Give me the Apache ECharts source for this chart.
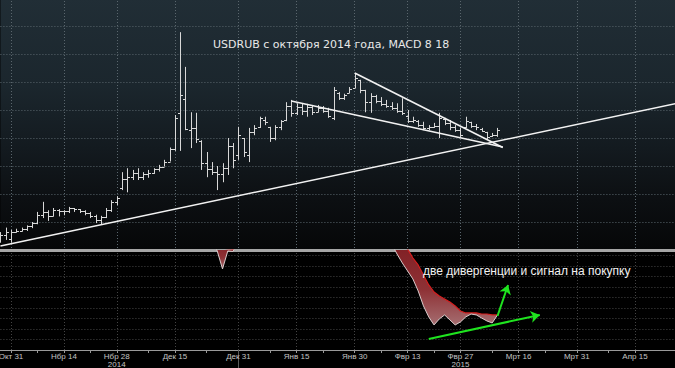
<!DOCTYPE html>
<html><head><meta charset="utf-8">
<script src="https://cdn.jsdelivr.net/npm/echarts@6/dist/echarts.min.js"></script>
<style>html,body{margin:0;padding:0;background:#000}#c{width:675px;height:368px}</style>
</head><body><div id="c"></div>
<script>
// Weekday categories (trading calendar) Oct 29 2014 .. Apr 27 2015
const categories = [
'2014-10-29','2014-10-30','2014-10-31',
'2014-11-03','2014-11-04','2014-11-05','2014-11-06','2014-11-07','2014-11-10','2014-11-11','2014-11-12','2014-11-13','2014-11-14',
'2014-11-17','2014-11-18','2014-11-19','2014-11-20','2014-11-21','2014-11-24','2014-11-25','2014-11-26','2014-11-27','2014-11-28',
'2014-12-01','2014-12-02','2014-12-03','2014-12-04','2014-12-05','2014-12-08','2014-12-09','2014-12-10','2014-12-11','2014-12-12',
'2014-12-15','2014-12-16','2014-12-17','2014-12-18','2014-12-19','2014-12-22','2014-12-23','2014-12-24','2014-12-25','2014-12-26',
'2014-12-29','2014-12-30','2014-12-31',
'2015-01-01','2015-01-02','2015-01-05','2015-01-06','2015-01-07','2015-01-08','2015-01-09','2015-01-12','2015-01-13','2015-01-14',
'2015-01-15','2015-01-16','2015-01-19','2015-01-20','2015-01-21','2015-01-22','2015-01-23','2015-01-26','2015-01-27','2015-01-28',
'2015-01-29','2015-01-30',
'2015-02-02','2015-02-03','2015-02-04','2015-02-05','2015-02-06','2015-02-09','2015-02-10','2015-02-11','2015-02-12','2015-02-13',
'2015-02-16','2015-02-17','2015-02-18','2015-02-19','2015-02-20','2015-02-23','2015-02-24','2015-02-25','2015-02-26','2015-02-27',
'2015-03-02','2015-03-03','2015-03-04','2015-03-05','2015-03-06','2015-03-09','2015-03-10','2015-03-11','2015-03-12','2015-03-13',
'2015-03-16','2015-03-17','2015-03-18','2015-03-19','2015-03-20','2015-03-23','2015-03-24','2015-03-25','2015-03-26','2015-03-27',
'2015-03-30','2015-03-31',
'2015-04-01','2015-04-02','2015-04-03','2015-04-06','2015-04-07','2015-04-08','2015-04-09','2015-04-10','2015-04-13','2015-04-14',
'2015-04-15','2015-04-16','2015-04-17','2015-04-20','2015-04-21','2015-04-22','2015-04-23','2015-04-24','2015-04-27'
];

// USDRUB daily OHLC, from 2014-10-29 to 2015-03-10
const open  = [42.3,42.6,42.0,43.2,43.4,43.7,44.2,44.8,46.3,46.8,46.0,47.1,46.9,46.9,47.5,47.3,47.0,46.6,46.0,45.4,45.9,47.2,48.5,
  51.0,52.6,53.0,53.8,53.0,53.6,53.8,54.4,54.9,55.8,58.0,64.5,67.0,61.5,61.8,59.5,55.5,54.5,54.0,53.5,54.7,58.5,57.0,
  60.0,57.0,61.0,62.0,63.3,62.0,60.0,62.0,63.2,65.8,64.5,65.5,64.8,65.5,64.6,65.3,64.8,63.6,68.0,67.2,68.0,69.0,
  70.4,68.5,66.5,67.5,66.6,66.0,65.7,65.3,64.8,64.0,63.0,63.0,62.4,61.8,62.0,62.2,63.4,62.7,62.0,61.4,
  62.0,62.9,62.2,61.6,61.1,60.3,60.5];
const high  = [43.2,44.0,43.6,43.8,44.0,44.4,45.0,46.8,48.6,47.1,47.5,47.3,47.1,47.7,47.5,47.3,47.1,46.8,46.3,46.1,47.5,48.9,49.6,
  53.9,54.6,54.3,54.6,53.9,54.3,54.6,55.2,56.1,58.3,64.1,78.9,72.7,64.6,64.5,59.6,57.5,55.7,55.0,55.5,60.0,59.1,62.0,
  60.0,61.8,62.3,63.8,63.8,62.0,62.3,63.2,66.4,66.8,66.2,66.1,66.1,65.9,65.9,65.7,65.4,69.1,68.2,67.9,69.1,71.6,
  70.4,68.6,68.0,67.7,67.3,66.8,66.4,66.2,67.1,65.0,63.8,63.2,62.9,62.3,62.7,64.5,63.6,63.2,62.3,61.8,
  63.8,62.9,62.5,61.8,61.1,60.9,61.8];
const low   = [41.3,41.8,41.3,43.1,43.3,43.4,43.9,44.6,45.7,45.2,46.0,46.0,46.2,46.6,46.8,46.6,46.2,45.7,44.8,44.6,45.7,46.8,48.0,
  50.7,50.3,52.5,52.5,52.5,52.9,53.6,54.0,54.9,55.8,57.7,57.7,61.4,58.2,59.1,54.3,53.0,53.4,50.7,52.1,53.4,54.6,56.1,
  56.6,55.7,60.5,61.8,62.3,59.3,59.6,61.4,63.0,63.8,64.1,64.1,63.8,64.1,64.6,64.5,63.6,63.2,66.8,66.8,68.0,68.9,
  68.0,64.6,64.5,66.2,65.7,65.4,65.0,64.5,64.1,62.7,62.7,62.0,61.4,61.4,61.8,60.0,62.3,61.4,61.1,60.2,
  61.8,61.8,61.4,61.1,59.8,60.2,60.2];
const close = [42.6,43.2,43.2,43.4,43.7,44.2,44.8,46.3,46.8,46.0,47.1,46.9,46.9,47.5,47.3,47.0,46.6,46.0,45.4,45.9,47.2,48.5,49.3,
  52.6,53.0,53.8,53.0,53.6,53.8,54.4,54.9,55.8,58.0,63.5,67.7,61.6,61.8,59.8,55.5,54.5,54.0,53.5,54.7,58.5,56.0,60.5,
  57.5,61.0,61.8,63.5,62.8,60.0,62.0,63.0,65.8,64.5,65.5,64.8,65.6,64.6,65.3,64.8,63.9,68.5,67.2,67.6,68.8,70.8,
  68.5,66.5,67.5,66.6,66.0,65.7,65.3,64.8,64.5,63.0,63.3,62.4,61.8,62.0,62.2,63.6,62.7,62.0,61.4,60.5,
  63.0,62.2,61.9,61.3,60.2,60.5,61.5];

// MACD(8,18) and signal, from 2014-12-24 to 2015-03-10 (null = off the panel)
const macdStartDate = '2014-12-24';
const macd = [1.45,0.41,-1.30,0.41,0.36,1.45,
  null,null,null,null,null,null,null,null,null,null,null,null,null,null,null,null,null,null,null,null,null,null,null,null,null,null,null,null,
  1.07,0.12,-0.73,-1.49,-2.25,-3.39,-4.81,-5.86,-6.62,-6.05,-5.67,-6.14,-6.62,-6.33,-5.86,-5.58,-5.67,-5.96,-6.24,-6.43,-5.67];
const signal = [1.20,0.90,0.70,0.60,0.55,1.00,
  null,null,null,null,null,null,null,null,null,null,null,null,null,null,null,null,null,null,null,null,null,null,null,null,null,null,null,null,
  1.83,1.36,0.98,0.60,-0.26,-0.92,-1.87,-2.82,-3.49,-3.87,-4.15,-4.44,-4.81,-5.29,-5.48,-5.48,-5.48,-5.58,-5.58,-5.67,-5.67];

// Trend lines (price panel) and arrows (MACD panel)
const trendSupport = [['2014-10-29', 40.73], ['2015-04-27', 66.2]];
const trendUpper   = [['2015-01-30', 71.6], ['2015-03-11', 58.3]];
const trendLower   = [['2015-01-14', 66.6], ['2015-03-11', 58.4]];
const arrowSignal  = [['2015-03-10', -5.77], ['2015-03-12', -2.82]];
const arrowDiverg  = [['2015-02-19', -7.95], ['2015-03-20', -5.67]];

// Axis ticks
const tickDates  = ['2014-10-31','2014-11-14','2014-11-28','2014-12-15','2014-12-31','2015-01-15','2015-01-30','2015-02-13','2015-02-27','2015-03-16','2015-03-31','2015-04-15'];
const tickLabels = ['Окт 31','Нбр 14','Нбр 28\n2014','Дек 15','Дек 31','Янв 15','Янв 30','Фвр 13','Фвр 27\n2015','Мрт 16','Мрт 31','Апр 15'];
const minorTickDates = ['2014-11-07','2014-11-21','2014-12-08','2014-12-23','2015-01-08','2015-01-22','2015-02-06','2015-02-20','2015-03-09','2015-03-23','2015-04-08'];
const yearBreakDate = '2014-12-31';

const titleText = 'USDRUB с октября 2014 года, MACD 8 18';
const noteText = 'две дивергенции и сигнал на покупку';

// ---- build ----
const ohlcData = open.map((o, i) => [i, o, high[i], low[i], close[i]]);
const macdStart = categories.indexOf(macdStartDate);
const macdLine = macd.map((v, i) => [categories[macdStart + i], v]);
const signalLine = signal.map((v, i) => [categories[macdStart + i], v]);
const fillRuns = [];
(function () {
  let s = -1;
  for (let i = 0; i <= macd.length; i++) {
    const ok = i < macd.length && macd[i] != null && signal[i] != null;
    if (ok && s < 0) s = i;
    if (!ok && s >= 0) { fillRuns.push([s, i - 1]); s = -1; }
  }
})();

const isTick = (idx, v) => tickDates.indexOf(v) >= 0;
const isTickOrMinor = (idx, v) => tickDates.indexOf(v) >= 0 || minorTickDates.indexOf(v) >= 0;

const GL = 0.42, GW = 676.86;
const chart = echarts.init(document.getElementById('c'), null, {renderer: 'svg', width: 675, height: 368});

const tickColorSt = {stroke: '#d8d8d8', lineWidth: 1};
function renderOHLC(params, api) {
  const xi = api.value(0);
  const pO = api.coord([xi, api.value(1)]);
  const pH = api.coord([xi, api.value(2)]);
  const pL = api.coord([xi, api.value(3)]);
  const pC = api.coord([xi, api.value(4)]);
  const x = Math.round(pH[0]) + 0.5;
  const yo = Math.round(pO[1]) + 0.5, yc = Math.round(pC[1]) + 0.5;
  return {type: 'group', children: [
    {type: 'line', shape: {x1: x, y1: pH[1], x2: x, y2: pL[1]}, style: tickColorSt},
    {type: 'line', shape: {x1: x - 2.5, y1: yo, x2: x, y2: yo}, style: tickColorSt},
    {type: 'line', shape: {x1: x, y1: yc, x2: x + 2.5, y2: yc}, style: tickColorSt}
  ]};
}
function renderFill(params, api) {
  const run = fillRuns[params.dataIndex];
  const pts = [];
  for (let i = run[0]; i <= run[1]; i++) pts.push(api.coord([macdStart + i, macd[i]]));
  for (let i = run[1]; i >= run[0]; i--) pts.push(api.coord([macdStart + i, signal[i]]));
  return {type: 'polygon', shape: {points: pts}, style: {
    fill: new echarts.graphic.LinearGradient(0, 0, 0, 1, [
      {offset: 0, color: '#7e1c21'}, {offset: 0.6, color: '#8e3135'}, {offset: 1, color: '#a56d70'}
    ]), stroke: null}};
}

const option = {
  animation: false,
  backgroundColor: '#000',
  grid: [
    {left: GL, width: GW, top: -2, height: 252, show: true, borderWidth: 0, containLabel: false, outerBoundsMode: 'none',
     backgroundColor: new echarts.graphic.LinearGradient(0, 0, 0, 1, [
       {offset: 0, color: '#212e36'}, {offset: 0.35, color: '#1b262d'}, {offset: 0.6, color: '#131a1f'},
       {offset: 0.8, color: '#0c0f12'}, {offset: 1, color: '#060708'}])},
    {left: GL, width: GW, top: 250, height: 100, show: false, containLabel: false, outerBoundsMode: 'none'}
  ],
  xAxis: [
    {gridIndex: 0, type: 'category', data: categories, boundaryGap: false, position: 'bottom',
     axisLine: {show: true, onZero: false, lineStyle: {color: '#a6a6a6', width: 3}}, axisTick: {show: false}, axisLabel: {show: false},
     splitLine: {show: true, interval: isTick, lineStyle: {color: '#5a666d', width: 1, type: [1, 2]}}},
    {gridIndex: 1, type: 'category', data: categories, boundaryGap: false, position: 'bottom',
     axisLine: {show: true, onZero: false, lineStyle: {color: '#9a9a9a', width: 1}},
     axisTick: {show: true, interval: isTickOrMinor, length: 3, lineStyle: {color: '#9a9a9a'}},
     axisLabel: {show: true, interval: isTick, margin: 2, color: '#c4c4c4', fontSize: 8, lineHeight: 8, fontFamily: 'Liberation Sans',
       formatter: v => { const j = tickDates.indexOf(v); return j >= 0 ? tickLabels[j] : ''; }},
     splitLine: {show: true, interval: isTick, lineStyle: {color: '#444', width: 1, type: [1, 2]}}},
    {gridIndex: 1, type: 'category', data: categories, boundaryGap: false, position: 'bottom',
     axisLine: {show: false, onZero: false}, axisLabel: {show: false}, splitLine: {show: false},
     axisTick: {show: true, interval: (i, v) => v === yearBreakDate, length: 18, lineStyle: {color: '#5a5a5a'}}}
  ],
  yAxis: [
    {gridIndex: 0, type: 'value', min: 40, max: 85, interval: 5, axisLine: {show: false}, axisTick: {show: false}, axisLabel: {show: false},
     splitLine: {show: true, lineStyle: {color: '#5a666d', width: 1, type: [1, 2]}}},
    {gridIndex: 1, type: 'value', min: -9, max: 0.5, interval: 1, axisLine: {show: false}, axisTick: {show: false}, axisLabel: {show: false},
     splitLine: {show: true, lineStyle: {color: '#464646', width: 1, type: [1, 2]}}}
  ],
  series: [
    {type: 'custom', name: 'USDRUB', xAxisIndex: 0, yAxisIndex: 0, data: ohlcData, encode: {x: 0, y: [1, 2, 3, 4]},
     renderItem: renderOHLC, clip: true, z: 2, silent: true},
    {type: 'line', xAxisIndex: 0, yAxisIndex: 0, data: trendSupport, symbol: 'none', lineStyle: {color: '#f2f2f2', width: 1.6}, z: 3, silent: true},
    {type: 'line', xAxisIndex: 0, yAxisIndex: 0, data: trendUpper, symbol: 'none', lineStyle: {color: '#f2f2f2', width: 1.6}, z: 3, silent: true},
    {type: 'line', xAxisIndex: 0, yAxisIndex: 0, data: trendLower, symbol: 'none', lineStyle: {color: '#f2f2f2', width: 1.6}, z: 3, silent: true},
    {type: 'custom', xAxisIndex: 1, yAxisIndex: 1, data: fillRuns.map(r => [macdStart + r[0], 0]), encode: {x: 0, y: 1},
     renderItem: renderFill, clip: true, z: 2, silent: true},
    {type: 'line', name: 'Signal', xAxisIndex: 1, yAxisIndex: 1, data: signalLine, symbol: 'none', connectNulls: false,
     lineStyle: {color: '#d61e1e', width: 1.2}, z: 3, silent: true},
    {type: 'line', name: 'MACD', xAxisIndex: 1, yAxisIndex: 1, data: macdLine, symbol: 'none', connectNulls: false,
     lineStyle: {color: '#d8cccc', width: 1}, z: 4, silent: true,
     markLine: {silent: true, symbol: ['none', 'arrow'], symbolSize: 9, label: {show: false},
       lineStyle: {color: '#1fe41f', width: 2, type: 'solid'},
       data: [[{coord: arrowSignal[0]}, {coord: arrowSignal[1]}], [{coord: arrowDiverg[0]}, {coord: arrowDiverg[1]}]]}}
  ],
  graphic: [
    {type: 'text', x: 213, y: 44, z: 10, silent: true,
     style: {text: titleText, fill: '#e8e8e8', fontSize: 11, fontFamily: 'DejaVu Sans', align: 'left', verticalAlign: 'middle'}},
    {type: 'text', x: 423, y: 271, z: 10, silent: true,
     style: {text: noteText, fill: '#f2f2f2', fontSize: 12, fontFamily: 'Liberation Sans', align: 'left', verticalAlign: 'middle'}}
  ]
};
chart.setOption(option);
</script>
</body></html>
